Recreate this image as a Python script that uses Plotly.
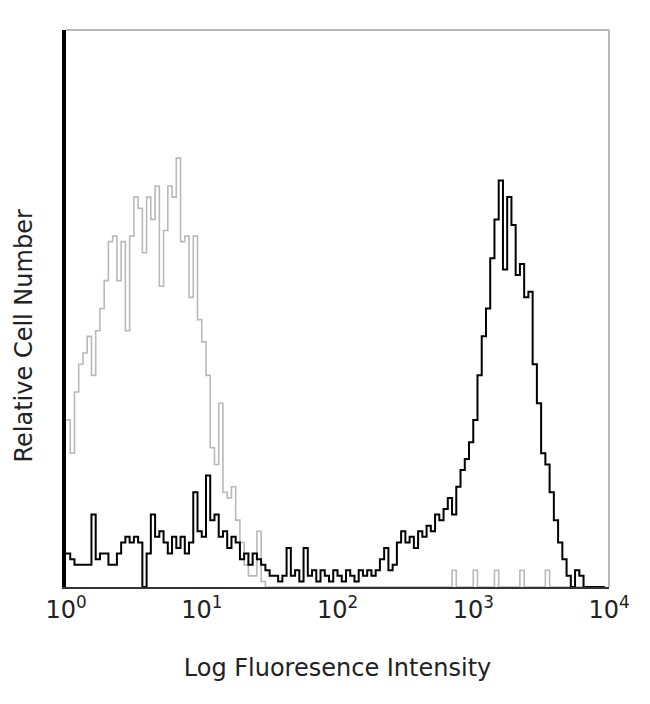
import plotly.graph_objects as go

# 128 log-scaled channels spanning 10^0 .. 10^4
channels = list(range(128))

# isotype control (light gray)
control_counts = [30, 24, 35, 40, 42, 45, 38, 46, 50, 55,
                  62, 63, 55, 62, 46, 63, 70, 68, 60, 70,
                  66, 72, 54, 64, 72, 70, 77, 62, 63, 52,
                  63, 48, 44, 38, 25, 22, 33, 17, 16, 18,
                  12, 8, 4, 2, 2, 10, 1, 0, 0, 0,
                  0, 0, 0, 0, 0, 0, 0, 0, 0, 0,
                  0, 0, 0, 0, 0, 0, 0, 0, 0, 0,
                  0, 0, 0, 0, 0, 0, 0, 0, 0, 0,
                  0, 0, 0, 0, 0, 0, 0, 0, 0, 0,
                  0, 3, 0, 0, 0, 0, 3, 0, 0, 0,
                  0, 3, 0, 0, 0, 0, 0, 3, 0, 0,
                  0, 0, 0, 3, 0, 0, 0, 0, 0, 0,
                  0, 0, 0, 0, 0, 0, 0, 0]

# stained sample (black)
stained_counts = [6, 5, 4, 4, 4, 4, 13, 5, 6, 6,
                  4, 4, 6, 8, 9, 8, 9, 8, 0, 6,
                  13, 9, 10, 8, 6, 9, 7, 9, 6, 8,
                  17, 10, 9, 20, 12, 13, 9, 10, 7, 9,
                  8, 5, 6, 4, 6, 5, 4, 3, 2, 2,
                  1, 2, 7, 2, 3, 1, 7, 2, 3, 1,
                  3, 2, 1, 3, 2, 1, 3, 2, 1, 3,
                  2, 3, 2, 3, 5, 7, 3, 4, 8, 10,
                  8, 9, 7, 10, 9, 11, 10, 13, 12, 14,
                  16, 13, 18, 21, 23, 26, 30, 38, 45, 50,
                  59, 66, 73, 57, 70, 65, 56, 58, 52, 53,
                  40, 33, 24, 22, 17, 12, 8, 5, 2, 0,
                  3, 2, 0, 0, 0, 0, 0, 0]

tick_channels = [0, 32, 64, 96, 128]
tick_labels = ["10<sup>0</sup>", "10<sup>1</sup>", "10<sup>2</sup>",
               "10<sup>3</sup>", "10<sup>4</sup>"]
x_title = "Log Fluoresence Intensity"
y_title = "Relative Cell Number"

fig = go.Figure()
fig.add_trace(go.Scatter(x=channels, y=control_counts, mode="lines",
                         line=dict(shape="hv", color="rgb(185,185,185)", width=1.6),
                         showlegend=False))
fig.add_trace(go.Scatter(x=channels, y=stained_counts, mode="lines",
                         line=dict(shape="hv", color="black", width=2),
                         showlegend=False))

font_family = "DejaVu Sans"
fig.update_layout(
    width=650, height=704,
    margin=dict(l=58, r=49, t=22, b=125),
    paper_bgcolor="white", plot_bgcolor="white",
    font=dict(family=font_family, color="#222", size=18),
    xaxis=dict(range=[0, 128], tickvals=tick_channels, ticktext=tick_labels,
               showgrid=False, zeroline=False, showline=True, linecolor="#333",
               linewidth=2, ticks="", tickfont=dict(size=24), automargin=False,
               title=dict(text=x_title, font=dict(size=24), standoff=36)),
    yaxis=dict(range=[0, 100], showticklabels=False, showgrid=False, zeroline=False,
               showline=True, linecolor="black", linewidth=4, ticks="", automargin=False),
    annotations=[
        dict(text=y_title, xref="paper", yref="paper", x=-0.077, y=0.45,
             xanchor="center", yanchor="middle", textangle=-90, showarrow=False,
             font=dict(size=24)),
    ],
    shapes=[
        dict(type="line", xref="paper", yref="paper", x0=0, x1=1, y0=1, y1=1,
             line=dict(color="rgb(160,160,160)", width=1.5)),
        dict(type="line", xref="paper", yref="paper", x0=1, x1=1, y0=0, y1=1,
             line=dict(color="rgb(160,160,160)", width=1.5)),
    ],
)

fig.write_html("out.html")
